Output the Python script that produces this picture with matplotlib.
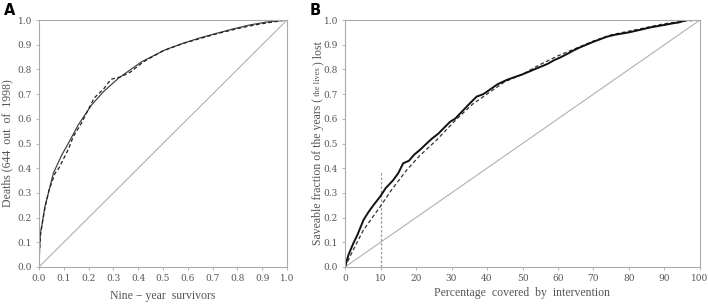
import numpy as np
import matplotlib.pyplot as plt

# Panel A: Lorenz-type curve, deaths vs nine-year survivors
a_solid_x = [0, 0.002, 0.006, 0.012, 0.024, 0.038, 0.058, 0.09, 0.118, 0.158, 0.212, 0.26,
             0.32, 0.414, 0.508, 0.582, 0.65, 0.716, 0.78, 0.85, 0.92, 1.0]
a_solid_y = [0, 0.07, 0.14, 0.17, 0.245, 0.30, 0.38, 0.45, 0.50, 0.575, 0.656, 0.71,
             0.764, 0.831, 0.879, 0.906, 0.928, 0.946, 0.963, 0.98, 0.992, 1.0]
a_dash_x = [0, 0.002, 0.006, 0.012, 0.024, 0.04, 0.065, 0.08, 0.1, 0.12, 0.138, 0.17, 0.2,
            0.223, 0.26, 0.29, 0.33, 0.37, 0.42, 0.5, 0.58, 0.65, 0.72, 0.8, 0.87, 0.93, 1.0]
a_dash_y = [0, 0.06, 0.13, 0.17, 0.24, 0.31, 0.38, 0.40, 0.44, 0.48, 0.528, 0.58, 0.64,
            0.685, 0.72, 0.76, 0.77, 0.79, 0.83, 0.875, 0.905, 0.925, 0.945, 0.965, 0.98, 0.99, 1.0]

# Panel B: saveable fraction vs percentage covered
b_solid_x = [0, 1, 2.35, 3.5, 5.2, 6.5, 8, 9.9, 11.5, 13.6, 15, 16.4, 18, 19.5, 21.1, 23, 24.5,
             26.3, 28, 29.6, 31, 33, 35, 37.1, 39, 41, 43, 45.5, 48, 50, 53, 55, 57, 59, 60.6,
             62.5, 64.3, 66, 68, 70, 73.7, 76, 78, 80, 83.1, 86, 88, 90, 92.5, 94, 96.3, 98, 100]
b_solid_y = [0, 0.05, 0.096, 0.13, 0.19, 0.22, 0.25, 0.285, 0.32, 0.352, 0.38, 0.42, 0.43,
             0.455, 0.474, 0.50, 0.52, 0.54, 0.565, 0.588, 0.60, 0.63, 0.66, 0.69, 0.70, 0.72,
             0.74, 0.757, 0.77, 0.78, 0.798, 0.81, 0.822, 0.838, 0.848, 0.862, 0.876, 0.888,
             0.90, 0.912, 0.932, 0.94, 0.945, 0.95, 0.96, 0.97, 0.975, 0.98, 0.987, 0.99, 1.0,
             1.0, 1.0]
b_dash_x = [0, 2, 5.2, 9.9, 13, 17.4, 21, 25.8, 31.5, 36, 40, 45, 50, 55, 60, 65, 70, 75, 80,
            85, 90, 95, 100]
b_dash_y = [0, 0.06, 0.15, 0.244, 0.31, 0.393, 0.45, 0.514, 0.60, 0.66, 0.70, 0.75, 0.78,
            0.82, 0.855, 0.885, 0.915, 0.94, 0.955, 0.97, 0.985, 0.995, 1.0]
b_marker_x = 10
b_marker_top = 0.39

plt.rcParams['font.family'] = 'Liberation Serif'
txt = '#555555'
spine = '#aaaaaa'

fig = plt.figure(figsize=(7.08, 3.08), dpi=100)
axA = fig.add_axes([39/708, 1-267/308, 248/708, 247/308])
axB = fig.add_axes([345/708, 1-267/308, 355/708, 247/308])

axA.plot([0, 1], [0, 1], color='#b0b0b0', lw=0.8)
axA.plot(a_solid_x, a_solid_y, color='#444444', lw=0.9)
axA.plot(a_dash_x, a_dash_y, color='#222222', lw=0.9, ls=(0, (3, 2)))
axA.set_xlim(0, 1)
axA.set_ylim(0, 1)
ticksA = np.round(np.arange(0, 1.01, 0.1), 1)
axA.set_xticks(ticksA)
axA.set_yticks(ticksA)
axA.set_xticklabels([f'{t:.1f}' for t in ticksA])
axA.set_yticklabels([f'{t:.1f}' for t in ticksA])
axA.set_xlabel('Nine \u2212 year  survivors', fontsize=8.5, color=txt, labelpad=5)
axA.set_ylabel('Deaths (644  out  of  1998)', fontsize=8.5, color=txt, labelpad=3)

axB.plot([0, 100], [0, 1], color='#b0b0b0', lw=0.8)
axB.plot([b_marker_x, b_marker_x], [0, b_marker_top], color='#999999', lw=0.9, ls=(0, (2, 1.5)))
axB.plot(b_dash_x, b_dash_y, color='#333333', lw=0.9, ls=(0, (3, 2)))
axB.plot(b_solid_x, b_solid_y, color='#111111', lw=1.4)
axB.set_xlim(0, 100)
axB.set_ylim(0, 1)
axB.set_xticks(range(0, 101, 10))
axB.set_yticks(ticksA)
axB.set_yticklabels([f'{t:.1f}' for t in ticksA])
axB.set_xlabel('Percentage  covered  by  intervention', fontsize=8.5, color=txt, labelpad=3)

for ax in (axA, axB):
    for s in ax.spines.values():
        s.set_color(spine)
        s.set_linewidth(0.8)
    ax.tick_params(length=2, width=0.6, color=spine, labelcolor=txt, labelsize=6.5, pad=3)
    for lab in ax.get_xticklabels() + ax.get_yticklabels():
        lab.set_family('DejaVu Serif')

# panel B y label with small inset text, built from pieces
parts = [('Saveable fraction of the years (', 8.5), (' the lives ', 6), (') lost', 8.5)]
xl = 318 / 708
objs = []
for s, fs in parts:
    t = fig.text(xl, 0, s, rotation=90, fontsize=fs, color=txt, ha='center', va='bottom',
                 rotation_mode='anchor')
    objs.append(t)
fig.canvas.draw()
r = fig.canvas.get_renderer()
heights = [o.get_window_extent(r).height for o in objs]
total = sum(heights)
y0 = (308 - 143.5) - total / 2
for o, h in zip(objs, heights):
    o.set_position((xl, y0 / 308))
    o.set_va('center')
    o.set_ha('left')
    y0 += h

fig.text(4/708, 1-3/308, 'A', fontsize=10.5, fontweight='bold', family='DejaVu Sans',
         ha='left', va='top')
fig.text(310/708, 1-3/308, 'B', fontsize=10.5, fontweight='bold', family='DejaVu Sans',
         ha='left', va='top')

fig.savefig('out.png', dpi=100)
